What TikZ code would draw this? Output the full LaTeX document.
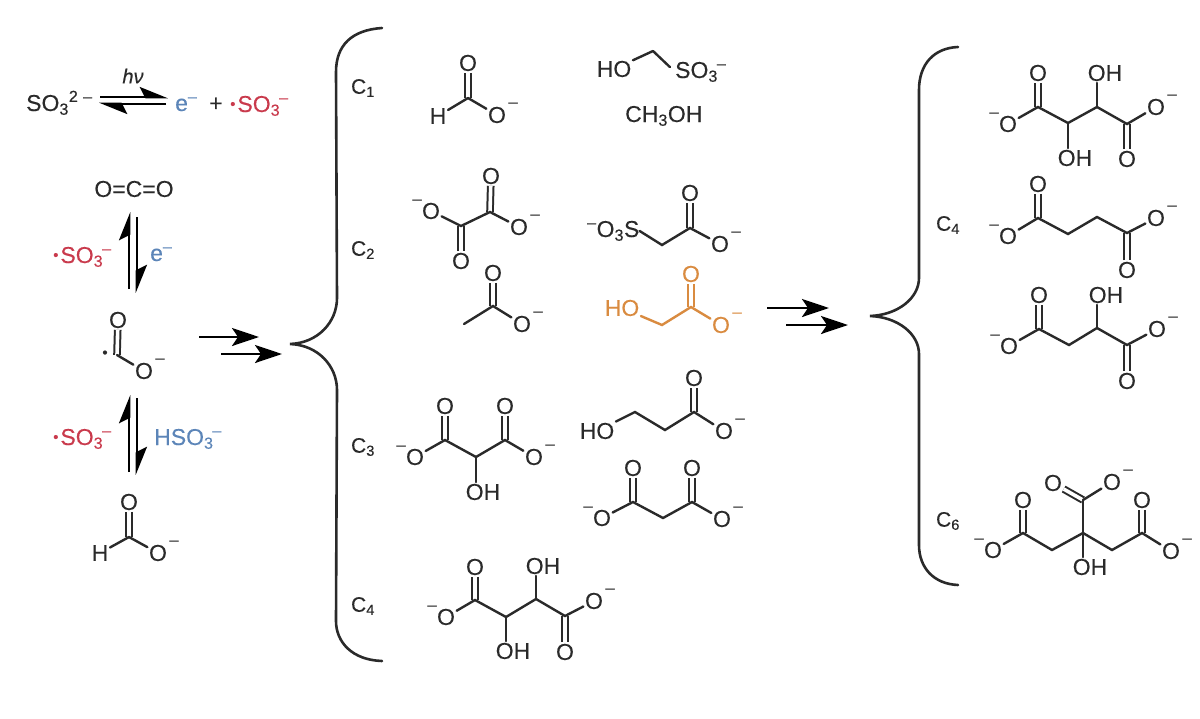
\documentclass[tikz,border=0pt]{standalone}
\usepackage{fontspec}
\setmainfont{Liberation Sans}[FakeBold=0.25]
\usetikzlibrary{arrows.meta}
\definecolor{ink}{HTML}{2A2A2A}
\definecolor{radred}{HTML}{C93A4C}
\definecolor{elblue}{HTML}{5C85B8}
\definecolor{acidorange}{HTML}{D98B40}
\newcommand{\bigfont}{\fontsize{23}{27}\selectfont}
\newcommand{\raddot}{{\fontsize{15}{15}\selectfont\raisebox{3pt}{•}}\kern2pt}
\newcommand{\sothree}{SO\textsubscript{3}\kern-1pt\textsuperscript{–}}
\tikzset{
    atom/.style={font=\bigfont, text=ink, inner sep=1.5pt},
    txt/.style={font=\bigfont, text=ink, inner sep=0pt, anchor=base west},
    clabel/.style={font=\fontsize{21}{25}\selectfont, text=ink, inner sep=0pt},
    chg/.style={font=\fontsize{17}{17}\selectfont, inner sep=0pt},
    negr/.style={label={[chg, xshift=16pt, yshift=10pt, text=#1]center:–}},
    negr/.default=ink,
    negl/.style={label={[chg, xshift=-14pt, yshift=9pt, text=ink]center:–}},
    bond/.style={draw=ink, line width=2.4pt, line cap=round},
    dbond/.style={draw=ink, line width=2pt, double, double distance=3.6pt},
    brace/.style={draw=ink, line width=2.6pt, line cap=round},
    rarrow/.style={draw=black, line width=2.6pt, -{Stealth[length=27pt, width=18pt, inset=6pt]}},
    harp/.style={draw=black, line width=2.6pt, -{Stealth[harpoon, length=25pt, width=20pt, inset=5pt]}}
}
\begin{document}
\begin{tikzpicture}[x=1pt, y=-1pt]
    \useasboundingbox (0,0) rectangle (1200,718);
    % photolysis line
    \node[txt] (sulfite) at (26,111) {SO\textsubscript{3}\textsuperscript{2\,\,–}};
    \node[atom, font=\fontsize{20}{24}\selectfont\itshape] (hnu) at (133,76) {hν};
    \node[txt, text=elblue] (elec) at (175,111) {e\textsuperscript{–}};
    \node[txt] (plus) at (209,111) {+};
    \node[txt, text=radred] (radA) at (230,112) {\raddot\sothree};
    \coordinate (hA1) at (100,97);
    \coordinate (hA2) at (168,97);
    \coordinate (hA3) at (166,104);
    \coordinate (hA4) at (99,104);
    \draw[harp] (hA1) -- (hA2);
    \draw[harp] (hA3) -- (hA4);
    % left column
    \node[atom] (co2) at (134,189) {O=C=O};
    \coordinate (hB1) at (129,289);
    \coordinate (hB2) at (129,212);
    \coordinate (hB3) at (137,217);
    \coordinate (hB4) at (137,293);
    \draw[harp] (hB1) -- (hB2);
    \draw[harp] (hB3) -- (hB4);
    \node[txt, text=radred] (radB) at (53,263) {\raddot\sothree};
    \node[txt, text=elblue] (elecB) at (150,261) {e\textsuperscript{–}};
    % radical
    \node[atom] (rO1) at (118,320) {O};
    \coordinate (rC) at (117,355);
    \node[atom, negr] (rO2) at (144,371) {O};
    \node[atom, font=\fontsize{15}{15}\selectfont] (rDot) at (105,354) {•};
    \draw[dbond] (rO1) -- (rC);
    \draw[bond] (rC) -- (rO2);
    \coordinate (hC1) at (129,472);
    \coordinate (hC2) at (129,395);
    \coordinate (hC3) at (137,398);
    \coordinate (hC4) at (137,475);
    \draw[harp] (hC1) -- (hC2);
    \draw[harp] (hC3) -- (hC4);
    \node[txt, text=radred] (radC) at (53,445) {\raddot\sothree};
    \node[txt, text=elblue] (hso) at (154,445) {H\sothree};
    % formate
    \node[atom] (fO1) at (129,502) {O};
    \coordinate (fC) at (129,537);
    \node[atom] (fH) at (100,553) {H};
    \node[atom, negr] (fO2) at (158,553) {O};
    \draw[dbond] (fO1) -- (fC);
    \draw[bond] (fC) -- (fH);
    \draw[bond] (fC) -- (fO2);
    % arrows
    \coordinate (aA1) at (199,337);
    \coordinate (aA2) at (259,337);
    \coordinate (aB1) at (221,354);
    \coordinate (aB2) at (282,354);
    \draw[rarrow] (aA1) -- (aA2);
    \draw[rarrow] (aB1) -- (aB2);
    \coordinate (aC1) at (767,308);
    \coordinate (aC2) at (829,308);
    \coordinate (aD1) at (786,325);
    \coordinate (aD2) at (848,325);
    \draw[rarrow] (aC1) -- (aC2);
    \draw[rarrow] (aD1) -- (aD2);
    % braces
    \coordinate (bA) at (382,28);
    \coordinate (bB) at (290,344);
    \coordinate (bC) at (382,661);
    \draw[brace] (bA) .. controls (352,30) and (336,45) .. (336,72) -- (337,298) .. controls (337,322) and (318,343) .. (bB) .. controls (318,345) and (337,366) .. (337,390) -- (336,621) .. controls (336,642) and (352,660) .. (bC);
    \coordinate (bD) at (958,47);
    \coordinate (bE) at (870,316);
    \coordinate (bF) at (958,585);
    \draw[brace] (bD) .. controls (934,48) and (919,64) .. (919,90) -- (919,278) .. controls (919,298) and (898,315) .. (bE) .. controls (898,317) and (919,334) .. (919,354) -- (919,545) .. controls (919,568) and (934,584) .. (bF);
    % carbon labels
    \node[clabel] (cOne) at (363,88) {C\textsubscript{1}};
    \node[clabel] (cTwo) at (363,250) {C\textsubscript{2}};
    \node[clabel] (cThree) at (363,447) {C\textsubscript{3}};
    \node[clabel] (cFour) at (363,606) {C\textsubscript{4}};
    \node[clabel] (cFourR) at (948,225) {C\textsubscript{4}};
    \node[clabel] (cSix) at (948,521) {C\textsubscript{6}};
    % formate, C1
    \node[atom] (gO1) at (468,63) {O};
    \coordinate (gC) at (468,98);
    \node[atom] (gH) at (438,116) {H};
    \node[atom, negr] (gO2) at (497,115) {O};
    \draw[dbond] (gO1) -- (gC);
    \draw[bond] (gC) -- (gH);
    \draw[bond] (gC) -- (gO2);
    % hydroxymethanesulfonate
    \node[atom] (hmHO) at (614,69) {HO};
    \coordinate (hmC) at (653,51);
    \node[txt] (hmS) at (675,78) {\sothree};
    \draw[bond] (hmHO) -- (hmC);
    \draw[bond, shorten >=7pt] (hmC) -- (hmS.west);
    \node[txt] (meoh) at (625,122) {CH\textsubscript{3}OH};
    % oxalate
    \node[atom] (oxO1) at (491,176) {O};
    \coordinate (oxC1) at (490,212);
    \node[atom, negr] (oxO2) at (519,227) {O};
    \coordinate (oxC2) at (461,226);
    \node[atom] (oxO3) at (461,261) {O};
    \node[atom, negl] (oxO4) at (431,211) {O};
    \draw[dbond] (oxO1) -- (oxC1);
    \draw[dbond] (oxO3) -- (oxC2);
    \draw[bond] (oxO4) -- (oxC2) -- (oxC1) -- (oxO2);
    % sulfoacetate
    \node[txt] (saS) at (587,237) {\textsuperscript{–}O\textsubscript{3}S};
    \coordinate (saC1) at (662,245);
    \coordinate (saC2) at (690,228);
    \node[atom] (saO1) at (690,193) {O};
    \node[atom, negr] (saO2) at (720,244) {O};
    \draw[dbond] (saO1) -- (saC2);
    \draw[bond] (saS.east) -- (saC1) -- (saC2) -- (saO2);
    % acetate
    \coordinate (acMe) at (464,324);
    \coordinate (acC) at (493,306);
    \node[atom] (acO1) at (493,273) {O};
    \node[atom, negr] (acO2) at (522,324) {O};
    \draw[dbond] (acO1) -- (acC);
    \draw[bond] (acMe) -- (acC) -- (acO2);
    % glycolate
    \begin{scope}[bond/.append style={draw=acidorange}, dbond/.append style={draw=acidorange}, atom/.append style={text=acidorange}]
        \node[atom] (glHO) at (622,308) {HO};
        \coordinate (glC1) at (662,325);
        \coordinate (glC2) at (691,307);
        \node[atom] (glO1) at (691,274) {O};
        \node[atom, negr=acidorange] (glO2) at (721,325) {O};
        \draw[dbond] (glO1) -- (glC2);
        \draw[bond] (glHO) -- (glC1) -- (glC2) -- (glO2);
    \end{scope}
    % tartronate
    \node[atom, negl] (trO1) at (415,457) {O};
    \coordinate (trC1) at (445,440);
    \node[atom] (trO2) at (445,406) {O};
    \coordinate (trC2) at (476,457);
    \node[atom] (trOH) at (483,492) {OH};
    \coordinate (trC3) at (505,440);
    \node[atom] (trO3) at (505,406) {O};
    \node[atom, negr] (trO4) at (534,457) {O};
    \draw[dbond] (trO2) -- (trC1);
    \draw[dbond] (trO3) -- (trC3);
    \draw[bond] (trO1) -- (trC1) -- (trC2) -- (trC3) -- (trO4);
    \draw[bond] (trC2) -- (trC2 |- trOH.north);
    % hydroxypropionate
    \node[atom] (hpHO) at (597,431) {HO};
    \coordinate (hpC1) at (635,412);
    \coordinate (hpC2) at (665,430);
    \coordinate (hpC3) at (694,412);
    \node[atom] (hpO1) at (694,378) {O};
    \node[atom, negr] (hpO2) at (724,431) {O};
    \draw[dbond] (hpO1) -- (hpC3);
    \draw[bond] (hpHO) -- (hpC1) -- (hpC2) -- (hpC3) -- (hpO2);
    % malonate
    \node[atom, negl] (mlO1) at (602,518) {O};
    \coordinate (mlC1) at (633,502);
    \node[atom] (mlO2) at (633,468) {O};
    \coordinate (mlC2) at (663,518);
    \coordinate (mlC3) at (692,502);
    \node[atom] (mlO3) at (692,468) {O};
    \node[atom, negr] (mlO4) at (722,519) {O};
    \draw[dbond] (mlO2) -- (mlC1);
    \draw[dbond] (mlO3) -- (mlC3);
    \draw[bond] (mlO1) -- (mlC1) -- (mlC2) -- (mlC3) -- (mlO4);
    % tartrate, C4 column
    \node[atom, negl] (taO1) at (446,617) {O};
    \coordinate (taC1) at (475,600);
    \node[atom] (taO2) at (475,567) {O};
    \coordinate (taC2) at (506,617);
    \node[atom] (taOHa) at (513,651) {OH};
    \coordinate (taC3) at (536,599);
    \node[atom] (taOHb) at (543,566) {OH};
    \coordinate (taC4) at (565,616);
    \node[atom, negr] (taO3) at (594,601) {O};
    \node[atom] (taO4) at (565,652) {O};
    \draw[dbond] (taO2) -- (taC1);
    \draw[dbond] (taO4) -- (taC4);
    \draw[bond] (taO1) -- (taC1) -- (taC2) -- (taC3) -- (taC4) -- (taO3);
    \draw[bond] (taC2) -- (taC2 |- taOHa.north);
    \draw[bond] (taC3) -- (taC3 |- taOHb.south);
    % tartrate, right
    \node[atom, negl] (tbO1) at (1008,124) {O};
    \coordinate (tbC1) at (1038,107);
    \node[atom] (tbO2) at (1038,73) {O};
    \coordinate (tbC2) at (1068,123);
    \node[atom] (tbOHa) at (1075,158) {OH};
    \coordinate (tbC3) at (1097,107);
    \node[atom] (tbOHb) at (1105,73) {OH};
    \coordinate (tbC4) at (1127,124);
    \node[atom, negr] (tbO3) at (1156,107) {O};
    \node[atom] (tbO4) at (1127,159) {O};
    \draw[dbond] (tbO2) -- (tbC1);
    \draw[dbond] (tbO4) -- (tbC4);
    \draw[bond] (tbO1) -- (tbC1) -- (tbC2) -- (tbC3) -- (tbC4) -- (tbO3);
    \draw[bond] (tbC2) -- (tbC2 |- tbOHa.north);
    \draw[bond] (tbC3) -- (tbC3 |- tbOHb.south);
    % succinate
    \node[atom, negl] (suO1) at (1008,236) {O};
    \coordinate (suC1) at (1038,218);
    \node[atom] (suO2) at (1038,184) {O};
    \coordinate (suC2) at (1068,234);
    \coordinate (suC3) at (1097,217);
    \coordinate (suC4) at (1127,233);
    \node[atom, negr] (suO3) at (1156,218) {O};
    \node[atom] (suO4) at (1127,270) {O};
    \draw[dbond] (suO2) -- (suC1);
    \draw[dbond] (suO4) -- (suC4);
    \draw[bond] (suO1) -- (suC1) -- (suC2) -- (suC3) -- (suC4) -- (suO3);
    % malate
    \node[atom, negl] (maO1) at (1009,346) {O};
    \coordinate (maC1) at (1039,329);
    \node[atom] (maO2) at (1039,295) {O};
    \coordinate (maC2) at (1069,345);
    \coordinate (maC3) at (1097,328);
    \node[atom] (maOH) at (1106,295) {OH};
    \coordinate (maC4) at (1127,345);
    \node[atom, negr] (maO3) at (1157,329) {O};
    \node[atom] (maO4) at (1127,381) {O};
    \draw[dbond] (maO2) -- (maC1);
    \draw[dbond] (maO4) -- (maC4);
    \draw[bond] (maO1) -- (maC1) -- (maC2) -- (maC3) -- (maC4) -- (maO3);
    \draw[bond] (maC3) -- (maC3 |- maOH.south);
    % citrate
    \node[atom, negl] (ciO1) at (993,550) {O};
    \coordinate (ciC1) at (1023,533);
    \node[atom] (ciO2) at (1023,500) {O};
    \coordinate (ciC2) at (1052,550);
    \coordinate (ciC3) at (1083,533);
    \node[atom] (ciOH) at (1090,567) {OH};
    \coordinate (ciC4) at (1083,500);
    \node[atom, negr] (ciO3) at (1112,482) {O};
    \node[atom] (ciO4) at (1053,483) {O};
    \coordinate (ciC5) at (1112,550);
    \coordinate (ciC6) at (1142,533);
    \node[atom] (ciO5) at (1142,500) {O};
    \node[atom, negr] (ciO6) at (1171,551) {O};
    \draw[dbond] (ciO2) -- (ciC1);
    \draw[dbond] (ciO4) -- (ciC4);
    \draw[dbond] (ciO5) -- (ciC6);
    \draw[bond] (ciO1) -- (ciC1) -- (ciC2) -- (ciC3) -- (ciC5) -- (ciC6) -- (ciO6);
    \draw[bond] (ciC4) -- (ciC3);
    \draw[bond] (ciC4) -- (ciO3);
    \draw[bond] (ciC3) -- (ciC3 |- ciOH.north);
\end{tikzpicture}
\end{document}
